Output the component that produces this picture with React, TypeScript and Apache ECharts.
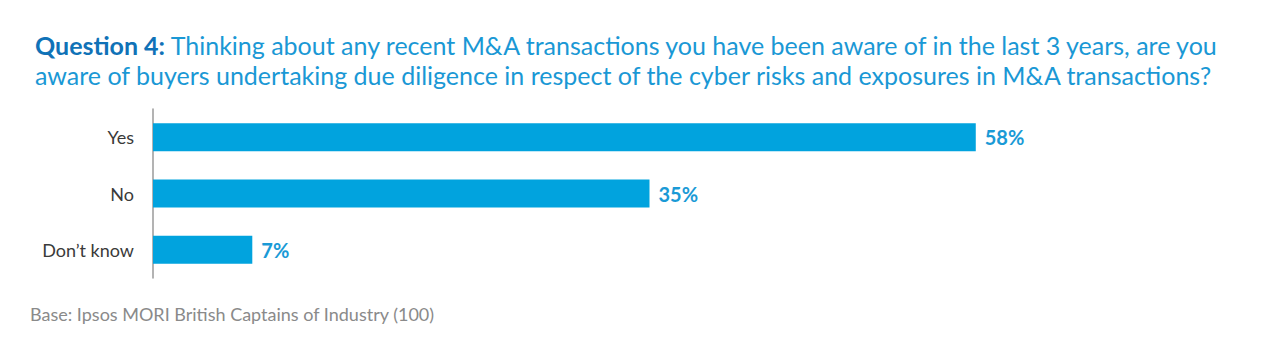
import React, { useEffect, useRef } from "react";
import * as echarts from "echarts";

const categories = ["Yes", "No", "Don\u2019t know"];
const values = [58, 35, 7];
const titleBold = "Question 4:";
const titleLine1 = " Thinking about any recent M&A transactions you have been aware of in the last 3 years, are you";
const titleLine2 = "aware of buyers undertaking due diligence in respect of the cyber risks and exposures in M&A transactions?";
const footnote = "Base: Ipsos MORI British Captains of Industry (100)";

const BLUE = "#01a3de";
const TITLE_BLUE = "#1a98d5";
const FONT = "Lato, 'Noto Sans', sans-serif";

export default function App() {
  const ref = useRef<HTMLDivElement>(null);
  useEffect(() => {
    if (!ref.current) return;
    const chart = echarts.init(ref.current, undefined, { renderer: "svg" });
    chart.setOption({
      animation: false,
      backgroundColor: "#ffffff",
      title: {
        left: 30,
        top: 25,
        text: `{b|${titleBold}}{r|${titleLine1}}\n{r|${titleLine2}}`,
        textStyle: {
          rich: {
            b: { fontFamily: FONT, fontSize: 25, fontWeight: "bold", color: "#1072b7", lineHeight: 30 },
            r: { fontFamily: FONT, fontSize: 25, fontWeight: "normal", color: TITLE_BLUE, lineHeight: 30 },
          },
        },
      },
      graphic: [
        {
          type: "text",
          left: 30,
          top: 305,
          style: { text: footnote, fontFamily: FONT, fontSize: 18, fill: "#8a8a8a" },
        },
      ],
      grid: { left: 153, right: 134, top: 109, height: 169, containLabel: false },
      xAxis: {
        type: "value",
        min: 0,
        max: 70,
        show: false,
      },
      yAxis: {
        type: "category",
        data: categories,
        inverse: true,
        axisLine: { show: true, lineStyle: { color: "#9a9a9a", width: 1.5 } },
        axisTick: { show: false },
        axisLabel: { fontFamily: FONT, fontSize: 18, color: "#3a3a3a", margin: 19 },
      },
      series: [
        {
          type: "bar",
          data: values,
          barWidth: 28,
          itemStyle: { color: BLUE },
          label: {
            show: true,
            position: "right",
            distance: 9,
            formatter: "{c}%",
            fontFamily: FONT,
            fontSize: 20,
            fontWeight: "bold",
            color: "#1a9ad6",
          },
        },
      ],
    });
    return () => chart.dispose();
  }, []);
  return (
    <div
      ref={ref}
      style={{ position: "absolute", left: 0, top: 0, width: 1280, height: 355 }}
    />
  );
}
